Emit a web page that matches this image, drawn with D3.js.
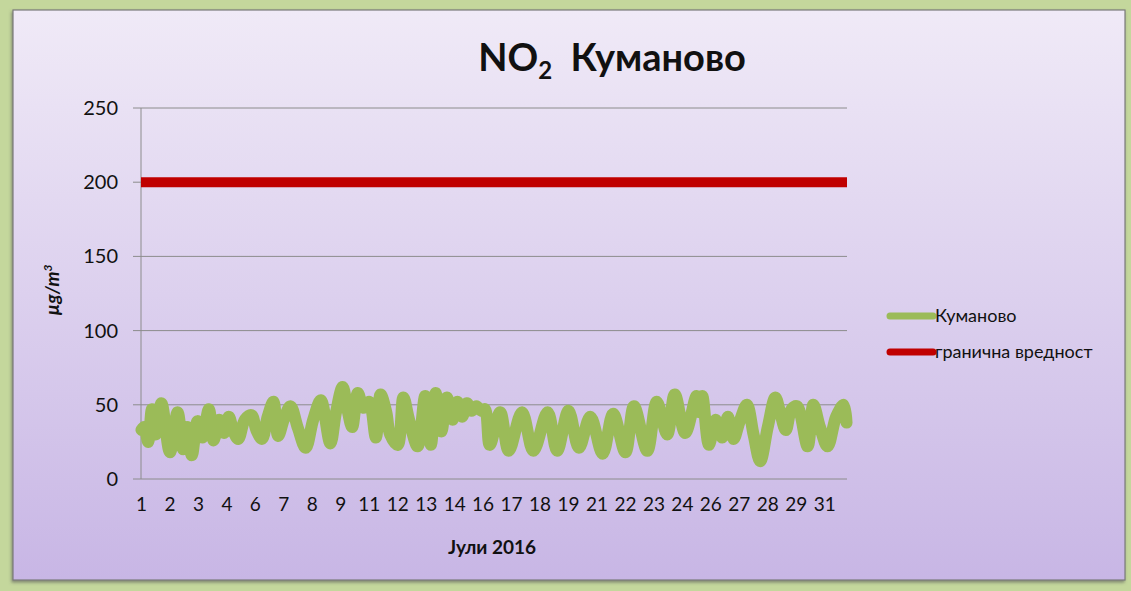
<!DOCTYPE html>
<html>
<head>
<meta charset="utf-8">
<script src="https://cdn.jsdelivr.net/npm/d3@7"></script>
<style>
  html, body { margin: 0; padding: 0; background: #c4d79c; }
  svg { display: block; }
  text { font-family: Lato, "Open Sans", sans-serif; fill: #111; }
</style>
</head>
<body>
<div id="chart"></div>
<script>
/*
 * Data
 */

// hourly readings for July 2016, 744 hours; keypoints [hour, value]
const hours = d3.range(744)
const kumanovo = [
  [0, 33], [3, 35], [7, 25], [11, 47], [15, 30], [21, 51], [30, 18], [38, 45],
  [44, 20], [48, 35], [53, 16], [59, 39], [64, 28], [71, 47], [76, 26], [82, 40],
  [87, 31], [92, 42], [97, 32], [102, 27], [109, 40], [116, 43], [121, 33], [127, 27],
  [133, 42], [139, 52], [144, 29], [150, 40], [157, 49], [165, 34], [173, 21], [181, 40],
  [189, 53], [199, 24], [205, 45], [212, 62], [217, 47], [222, 35], [228, 58], [234, 48],
  [240, 52], [247, 28], [252, 57], [258, 45], [262, 30], [270, 23], [276, 55], [282, 40],
  [291, 22], [299, 56], [305, 23], [310, 58], [316, 32], [322, 55], [328, 40], [333, 52],
  [338, 42], [343, 51], [348, 46], [353, 49], [358, 46], [362, 47], [367, 23], [378, 45],
  [387, 19], [401, 45], [413, 19], [428, 45], [438, 19], [450, 46], [461, 21], [473, 42],
  [486, 17], [497, 44], [510, 18], [519, 49], [533, 19], [543, 52], [554, 30], [562, 57],
  [573, 31], [585, 56], [588, 45], [591, 56], [598, 23], [605, 40], [612, 28], [618, 42],
  [624, 27], [630, 38], [638, 50], [645, 30], [652, 12], [660, 35], [668, 55], [673, 45],
  [679, 33], [685, 47], [691, 49], [702, 22], [708, 50], [715, 35], [723, 22], [732, 42],
  [740, 50], [743, 38]
]
const limitValue = 200

const yTicks = [0, 50, 100, 150, 200, 250]
const xTickHours = [0, 30, 60, 90, 120, 150, 180, 210, 240, 270, 300, 330, 360,
  390, 420, 450, 480, 510, 540, 570, 600, 630, 660, 690, 720]
const xTickLabels = ['1', '2', '3', '4', '6', '7', '8', '9', '11', '12', '13', '14',
  '16', '17', '18', '19', '21', '22', '23', '24', '26', '27', '28', '29', '31']

const seriesNames = ['Куманово', 'гранична вредност']
const seriesColors = ['#9bbb59', '#c00000']

/*
 * Setup
 */
const w = 1131
const h = 591
const plot = { left: 141, right: 847, top: 108, bottom: 479 }

const svg = d3.select('#chart')
  .append('svg')
  .attr('width', w)
  .attr('height', h)

const defs = svg.append('defs')
const grad = defs.append('linearGradient')
  .attr('id', 'bg')
  .attr('x1', 0).attr('y1', 0).attr('x2', 0).attr('y2', 1)
grad.append('stop').attr('offset', '0%').attr('stop-color', '#f0eaf7')
grad.append('stop').attr('offset', '100%').attr('stop-color', '#c8b6e5')

const shadow = defs.append('filter').attr('id', 'shadow')
shadow.append('feDropShadow')
  .attr('dx', -1).attr('dy', 2).attr('stdDeviation', 1.5)
  .attr('flood-color', '#555').attr('flood-opacity', 0.6)

const soft = defs.append('filter').attr('id', 'soft')
soft.append('feGaussianBlur').attr('stdDeviation', 0.6)

// panel
svg.append('rect')
  .attr('x', 13).attr('y', 10)
  .attr('width', 1112).attr('height', 570)
  .attr('fill', 'url(#bg)')
  .attr('stroke', '#7a7a7a')
  .attr('stroke-width', 1.2)
  .attr('filter', 'url(#shadow)')

const x = d3.scaleBand()
  .domain(hours)
  .range([plot.left, plot.right])
  .padding(0)

const xc = d => x(d) + x.bandwidth() / 2

const y = d3.scaleLinear()
  .domain([0, 250])
  .range([plot.bottom, plot.top])

// gridlines
svg.append('g')
  .selectAll('line')
  .data(yTicks)
  .enter()
  .append('line')
  .attr('x1', plot.left - 8)
  .attr('x2', plot.right)
  .attr('y1', d => y(d))
  .attr('y2', d => y(d))
  .style('stroke', '#8c8c8c')
  .style('stroke-width', 1)

// y axis line
svg.append('line')
  .attr('x1', plot.left).attr('x2', plot.left)
  .attr('y1', plot.top).attr('y2', plot.bottom)
  .style('stroke', '#8c8c8c')

// y labels
const yAxis = svg.append('g')
  .attr('transform', `translate(${plot.left},0)`)
  .call(d3.axisLeft(y).tickValues(yTicks).tickSize(0).tickPadding(23))
yAxis.select('.domain').remove()
yAxis.selectAll('text')
  .style('font-size', '20px')
  .style('font-family', 'Lato, sans-serif')
  .attr('fill', '#111')

// x labels
const xAxis = svg.append('g')
  .attr('transform', `translate(0,${plot.bottom})`)
  .call(d3.axisBottom(x)
    .tickValues(xTickHours)
    .tickSize(0)
    .tickPadding(19)
    .tickFormat((d, i) => xTickLabels[i]))
xAxis.select('.domain').remove()
xAxis.selectAll('text')
  .style('font-size', '19px')
  .style('font-family', 'Lato, sans-serif')
  .attr('fill', '#111')

// series
svg.append('path')
  .datum(kumanovo)
  .attr('d', d3.line()
    .x(d => xc(d[0]))
    .y(d => y(d[1]))
    .curve(d3.curveCatmullRom.alpha(0.5)))
  .attr('filter', 'url(#soft)')
  .style('fill', 'none')
  .style('stroke', seriesColors[0])
  .style('stroke-width', 12)
  .style('stroke-linejoin', 'round')
  .style('stroke-linecap', 'round')

svg.append('path')
  .datum([hours[0], hours[hours.length - 1]])
  .attr('d', d3.line()
    .x((d, i) => i === 0 ? plot.left : plot.right)
    .y(() => y(limitValue)))
  .style('fill', 'none')
  .style('stroke', seriesColors[1])
  .style('stroke-width', 10)

// title
const title = svg.append('text')
  .attr('x', 612)
  .attr('y', 71)
  .attr('text-anchor', 'middle')
  .style('font-size', '38px')
  .style('font-weight', 'bold')
title.append('tspan').text('NO')
title.append('tspan').text('2').attr('dy', 8).style('font-size', '24px')
title.append('tspan').text('\u00a0 Куманово').attr('dy', -8)

// axis titles
svg.append('text')
  .attr('transform', 'translate(59,290) rotate(-90)')
  .attr('text-anchor', 'middle')
  .style('font-size', '19px')
  .style('font-weight', 'bold')
  .style('font-style', 'italic')
  .html('µg/m<tspan dy="-7" font-size="12px">3</tspan>')

svg.append('text')
  .attr('x', 492)
  .attr('y', 554)
  .attr('text-anchor', 'middle')
  .style('font-size', '19px')
  .style('font-weight', 'bold')
  .text('Јули 2016')

// legend
const legend = svg.append('g')
  .selectAll('g')
  .data(seriesNames)
  .enter()
  .append('g')
  .attr('transform', (d, i) => `translate(890,${316 + i * 36})`)

legend.append('line')
  .attr('x1', 0).attr('x2', 43)
  .attr('y1', 0).attr('y2', 0)
  .style('stroke', (d, i) => seriesColors[i])
  .style('stroke-width', 7)
  .style('stroke-linecap', 'round')

legend.append('text')
  .attr('x', 45)
  .attr('y', 0)
  .attr('dy', '0.35em')
  .style('font-size', '18px')
  .text(d => d)
</script>
</body>
</html>
